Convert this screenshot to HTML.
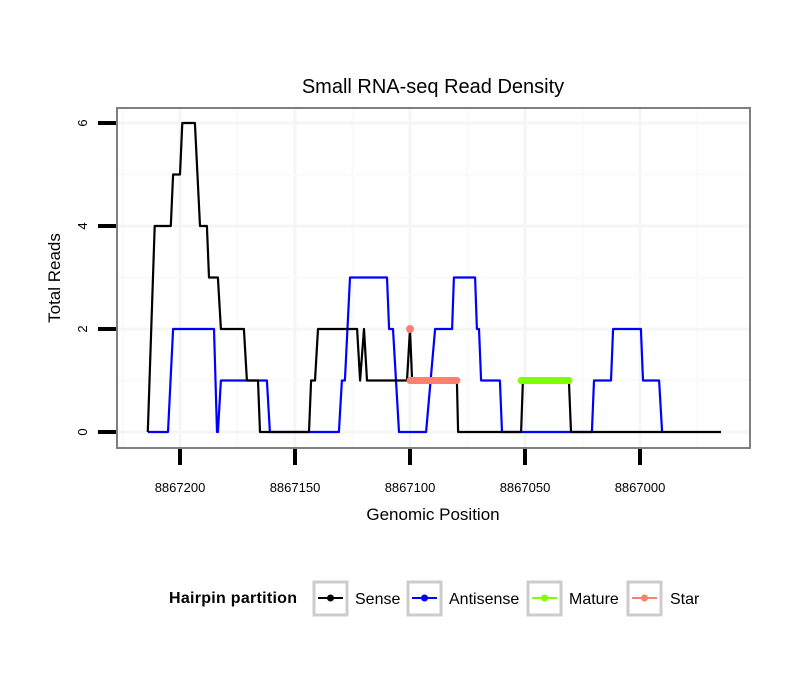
<!DOCTYPE html>
<html><head><meta charset="utf-8"><style>
body{margin:0;background:#fff;}
svg text{font-family:"Liberation Sans",sans-serif;}
</style></head><body>
<svg width="810" height="690" xmlns="http://www.w3.org/2000/svg">
<g id="grid"></g>
<rect x="117" y="108" width="633" height="340" fill="none" stroke="#7f7f7f" stroke-width="2"/>
<g id="marks"></g>
<g id="axes"></g>
<text x="433" y="93" font-size="20" text-anchor="middle">Small RNA-seq Read Density</text>
<text x="433" y="520" font-size="17" text-anchor="middle">Genomic Position</text>
<text transform="translate(60,278) rotate(-90)" font-size="17" text-anchor="middle">Total Reads</text>
<g>
<text x="169" y="603" font-size="16" font-weight="bold" textLength="128">Hairpin partition</text>
<g><rect x="314" y="582" width="33" height="33" fill="none" stroke="#ccc" stroke-width="3"/><line x1="318" y1="598" x2="343" y2="598" stroke="#000" stroke-width="2"/><circle cx="330.5" cy="598" r="3.5" fill="#000"/><text x="355" y="604" font-size="16">Sense</text></g>
<g><rect x="408" y="582" width="33" height="33" fill="none" stroke="#ccc" stroke-width="3"/><line x1="412" y1="598" x2="437" y2="598" stroke="#00f" stroke-width="2"/><circle cx="424.5" cy="598" r="3.5" fill="#00f"/><text x="449" y="604" font-size="16">Antisense</text></g>
<g><rect x="528" y="582" width="33" height="33" fill="none" stroke="#ccc" stroke-width="3"/><line x1="532" y1="598" x2="557" y2="598" stroke="#7fff00" stroke-width="2"/><circle cx="544.5" cy="598" r="3.5" fill="#7fff00"/><text x="569" y="604" font-size="16">Mature</text></g>
<g><rect x="628" y="582" width="33" height="33" fill="none" stroke="#ccc" stroke-width="3"/><line x1="632" y1="598" x2="657" y2="598" stroke="#fa8072" stroke-width="2"/><circle cx="644.5" cy="598" r="3.5" fill="#fa8072"/><text x="670" y="604" font-size="16">Star</text></g>
</g>
</svg>
<script>
const xTicks=[8867200,8867150,8867100,8867050,8867000];
const xTickLabels=["8867200","8867150","8867100","8867050","8867000"];
const yTicks=[0,2,4,6];
const yTickLabels=["0","2","4","6"];
const sensePos=[8867214,8867211,8867204,8867203,8867200,8867199,8867193.5,8867191.3,8867188.3,8867187.4,8867183.5,8867182.2,8867172.2,8867170.9,8867166.1,8867165.2,8867143.9,8867143,8867141.3,8867140,8867123,8867121.7,8867120,8867118.7,8867101.3,8867100,8867099.1,8867079.6,8867079.1,8867051.7,8867050.9,8867030.9,8867030,8866964.8];
const senseVal=[0,4,4,5,5,6,6,4,4,3,3,2,2,1,1,0,0,1,1,2,2,1,2,1,1,2,1,1,0,0,1,1,0,0];
const antiPos=[8867214,8867205.2,8867203,8867185.2,8867183.9,8867183.5,8867182.2,8867162.2,8867160.9,8867130.9,8867129.6,8867128.3,8867126.1,8867110,8867109.1,8867107.4,8867104.8,8867093,8867089.1,8867081.7,8867080.9,8867071.7,8867070.9,8867070,8867069.1,8867060.9,8867060,8867020.9,8867020,8867012.6,8867011.7,8866999.6,8866998.7,8866991.7,8866990.4];
const antiVal=[0,0,2,2,0,0,1,1,0,0,1,1,3,3,2,2,0,0,2,2,3,3,2,2,1,1,0,0,1,1,2,2,1,1,0];
const starRange=[8867100,8867079.6];const starVal=1;
const starPeak=[8867100,2];
const matureRange=[8867051.7,8867030.9];const matureVal=1;

const NS="http://www.w3.org/2000/svg";
const X=p=>180+(8867200-p)*2.3;
const Y=v=>432-v*51.5;
function mk(tag,attrs,parent){const e=document.createElementNS(NS,tag);for(const k in attrs)e.setAttribute(k,attrs[k]);parent.appendChild(e);return e;}
const grid=document.getElementById('grid'),marks=document.getElementById('marks'),axes=document.getElementById('axes');
for(let i=-1;i<xTicks.length+1;i++){
  for(const off of [0,25]){const p=8867200-i*50-off;const x=X(p);if(x<118||x>749)continue;
  const l=mk('line',{x1:x,x2:x,y1:109,y2:447,stroke:off?'#fafafa':'#f5f5f5','stroke-width':off?2:3},grid);
  }
}
for(let v=0;v<=6.5;v++){const y=Y(v);
  const l=mk('line',{x1:118,x2:749,y1:y,y2:y,stroke:v%2?'#fafafa':'#f5f5f5','stroke-width':v%2?2:3},grid);
  }
function path(pos,val,color,name){const d=pos.map((p,i)=>(i?'L':'M')+X(p).toFixed(1)+','+Y(val[i]).toFixed(1)).join('');
  const e=mk('path',{d:d,fill:'none',stroke:color,'stroke-width':2.2,'stroke-linejoin':'round'},marks);
  }
path(antiPos,antiVal,'#0000ff','antisense-line');
path(sensePos,senseVal,'#000000','sense-line');
const st=mk('line',{x1:X(starRange[0]),x2:X(starRange[1]),y1:Y(starVal),y2:Y(starVal),stroke:'#fa8072','stroke-width':7,'stroke-linecap':'round'},marks);

const sp=mk('circle',{cx:X(starPeak[0]),cy:Y(starPeak[1]),r:4,fill:'#fa8072'},marks);

const mt=mk('line',{x1:X(matureRange[0]),x2:X(matureRange[1]),y1:Y(matureVal),y2:Y(matureVal),stroke:'#7fff00','stroke-width':7,'stroke-linecap':'round'},marks);

xTicks.forEach((t,i)=>{const x=X(t);
  const l=mk('line',{x1:x,x2:x,y1:449,y2:465,stroke:'#000','stroke-width':4},axes);
  
  const tx=mk('text',{x:x,y:492,'font-size':13,'text-anchor':'middle'},axes);tx.textContent=xTickLabels[i];
  });
yTicks.forEach((t,i)=>{const y=Y(t);
  const l=mk('line',{x1:98,x2:116,y1:y,y2:y,stroke:'#000','stroke-width':4},axes);
  
  const tx=mk('text',{transform:`translate(87,${y}) rotate(-90)`,'font-size':13,'text-anchor':'middle'},axes);tx.textContent=yTickLabels[i];
  });
</script>
</body></html>
